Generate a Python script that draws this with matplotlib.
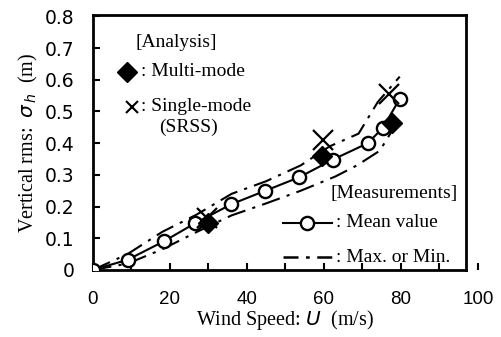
import matplotlib
matplotlib.use("Agg")
import matplotlib.pyplot as plt
import numpy as np

# wind speed (m/s) and measured vertical rms (m)
U_meas = [0, 9, 18.4, 26.5, 35.9, 44.8, 53.5, 62.3, 71.4, 75.3, 79.7]
mean_val = [0, 0.032, 0.09, 0.147, 0.207, 0.25, 0.292, 0.348, 0.40, 0.448, 0.54]
U_max = [0, 9, 18, 27, 36, 45, 54, 61.5, 69, 74, 79.7]
max_val = [0, 0.05, 0.12, 0.175, 0.24, 0.28, 0.33, 0.39, 0.43, 0.53, 0.61]
U_min = [0, 9, 18, 27, 36, 45, 54, 63, 68.6, 74.5, 78]
min_val = [0, 0.02, 0.065, 0.12, 0.172, 0.21, 0.25, 0.295, 0.33, 0.376, 0.445]

# analysis
U_multi = [29.9, 59.5, 77.7]
multi_val = [0.147, 0.36, 0.464]
U_single = [29.6, 59.7, 77.0]
single_val = [0.163, 0.41, 0.555]

xticks = [0, 20, 40, 60, 80, 100]
yticks = [0, 0.1, 0.2, 0.3, 0.4, 0.5, 0.6, 0.7, 0.8]
ytick_labels = ["0", "0.1", "0.2", "0.3", "0.4", "0.5", "0.6", "0.7", "0.8"]

serif = "Liberation Serif"
sans = "Liberation Sans"
dashdot = (0, (9, 3.5, 1.5, 3.5))
fs = 14

fig = plt.figure(figsize=(5.02, 3.37), dpi=100)
ax = fig.add_axes([0.185, 0.199, 0.767, 0.757])

ax.plot(U_max, max_val, color="black", lw=1.5, ls=dashdot)
ax.plot(U_min, min_val, color="black", lw=1.5, ls=dashdot)
ax.plot(U_meas, mean_val, color="black", lw=1.5, marker="o", ms=9.5,
        mfc="white", mec="black", mew=1.7, zorder=3)
ax.plot(U_multi, multi_val, ls="none", marker="D", ms=10, color="black", zorder=4)
ax.plot(U_single, single_val, ls="none", marker="x", ms=15, mew=1.6,
        color="black", zorder=4)

ax.set_xlim(0, 100)
ax.set_ylim(0, 0.805)
ax.set_xticks(xticks)
ax.set_xticks(np.arange(0, 100, 10), minor=True)
ax.set_yticks(yticks)
ax.set_yticklabels(ytick_labels)
ax.tick_params(direction="in", length=5, width=1.5, labelsize=13.5,
               top=False, right=False)
ax.tick_params(axis="y", pad=13)
ax.tick_params(axis="x", pad=15)
ax.tick_params(which="minor", direction="in", length=5, width=1.5)
for lab in ax.get_xticklabels() + ax.get_yticklabels():
    lab.set_family(sans)

for s in ax.spines.values():
    s.set_linewidth(2)
ax.spines["right"].set_position(("data", 97))
ax.spines["top"].set_bounds(0, 97)
ax.spines["bottom"].set_bounds(0, 97)

ax.set_xlabel("Wind Speed: $\\mathit{U}$  (m/s)", family=serif, fontsize=14.5, labelpad=0)
ax.set_ylabel("Vertical rms:  $\\sigma_{\\,h}$  (m)", family=serif, fontsize=14.5, labelpad=4)

# legend, drawn by hand
tr = ax.transAxes
ax.text(0.112, 0.89, "[Analysis]", transform=tr, family=serif, fontsize=fs, va="center")
ax.plot([0.088], [0.776], transform=tr, marker="D", ms=10, color="black", clip_on=False)
ax.text(0.125, 0.776, ": Multi-mode", transform=tr, family=serif, fontsize=fs, va="center")
ax.plot([0.101], [0.64], transform=tr, marker="x", ms=9, mew=1.5, color="black", clip_on=False)
ax.text(0.125, 0.64, ": Single-mode", transform=tr, family=serif, fontsize=fs, va="center")
ax.text(0.172, 0.56, "(SRSS)", transform=tr, family=serif, fontsize=fs, va="center")

ax.text(0.618, 0.30, "[Measurements]", transform=tr, family=serif, fontsize=fs, va="center")
ax.plot([0.494, 0.62], [0.184, 0.184], transform=tr, color="black", lw=1.5,
        clip_on=False)
ax.plot([0.557], [0.184], transform=tr, marker="o", ms=9.5, mfc="white",
        mec="black", mew=1.7, clip_on=False)
ax.text(0.632, 0.184, ": Mean value", transform=tr, family=serif, fontsize=fs, va="center")
ax.plot([0.494, 0.62], [0.05, 0.05], transform=tr, color="black", lw=1.8,
        ls=(0, (6, 3, 1.5, 3)), clip_on=False)
ax.text(0.632, 0.05, ": Max. or Min.", transform=tr, family=serif, fontsize=fs, va="center")

fig.savefig("out.png", dpi=100)
